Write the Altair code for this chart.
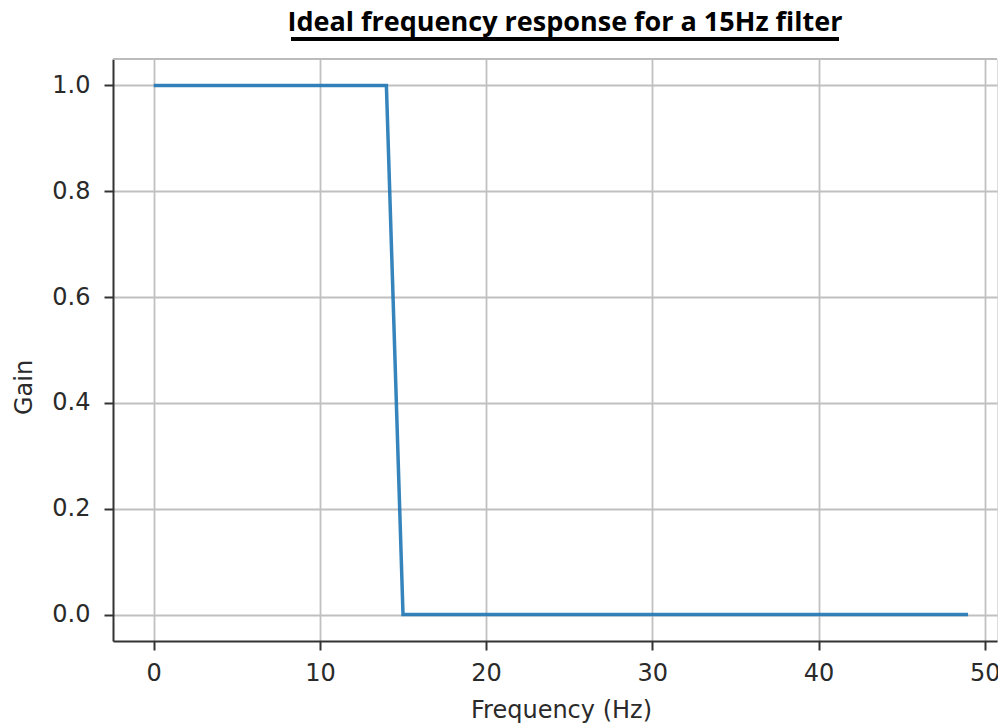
import altair as alt
import pandas as pd

# Data
freq = list(range(0, 50))
gain = [1.0 if f < 15 else 0.0 for f in freq]  # ideal low-pass: 1 up to 14 Hz, 0 from 15 Hz
x_ticks = [0, 10, 20, 30, 40, 50]
y_ticks = [0.0, 0.2, 0.4, 0.6, 0.8, 1.0]

df = pd.DataFrame({"freq": freq, "gain": gain})

W, H = 884, 582
label_font = "DejaVu Sans"
dark = "#2a2a2a"

line = alt.Chart(df).mark_line(color="#1f77b4", strokeWidth=3.5, opacity=0.9).encode(
    x=alt.X("freq:Q",
            scale=alt.Scale(domain=[-2.45, 50.74], nice=False, zero=False),
            axis=alt.Axis(values=x_ticks, format="d", title="Frequency (Hz)",
                          grid=True, gridColor="#c0c0c0", gridWidth=1.8,
                          domainColor="#333333", domainWidth=2,
                          tickColor="#333333", tickWidth=2, tickSize=9,
                          labelFont=label_font, labelFontSize=24, labelColor=dark,
                          labelPadding=11, labelFlush=False,
                          titleFont=label_font, titleFontSize=24, titleFontWeight="normal",
                          titleColor=dark, titleX=448, titleY=76,
                          titleBaseline="alphabetic", titleAlign="center")),
    y=alt.Y("gain:Q",
            scale=alt.Scale(domain=[-0.05, 1.05], nice=False, zero=False),
            axis=alt.Axis(values=y_ticks, format=".1f", title="Gain",
                          grid=True, gridColor="#c0c0c0", gridWidth=1.8,
                          domainColor="#333333", domainWidth=2,
                          tickColor="#333333", tickWidth=2, tickSize=9,
                          labelFont=label_font, labelFontSize=24, labelColor=dark,
                          labelPadding=14, labelFlush=False,
                          titleFont=label_font, titleFontSize=24, titleFontWeight="normal",
                          titleColor=dark, titleAngle=270, titleX=-82, titleY=328,
                          titleBaseline="alphabetic", titleAlign="center")),
)

# thin top frame line and title underline (decoration)
top_rule = alt.Chart(df).mark_rule(color="#bbbbbb", strokeWidth=1).encode(
    x=alt.value(0), x2=alt.value(W), y=alt.value(0)
)
underline = alt.Chart(df).mark_rule(color="#000000", strokeWidth=2.5).encode(
    x=alt.value(178), x2=alt.value(726), y=alt.value(-20)
)

chart = alt.layer(top_rule, line, underline).properties(
    width=W, height=H,
    title=alt.TitleParams(
        "Ideal frequency response for a 15Hz filter",
        font="Open Sans", fontSize=27, fontWeight="bold", color="#000000",
        anchor="middle", dx=10, dy=26, baseline="alphabetic", offset=6,
    ),
    autosize=alt.AutoSizeParams(type="none"),
    padding={"left": 113, "top": 59, "right": 1, "bottom": 85},
).configure_view(stroke=None).configure(background="white")

chart.save("out.html", embed_options={"renderer": "svg", "actions": False})
